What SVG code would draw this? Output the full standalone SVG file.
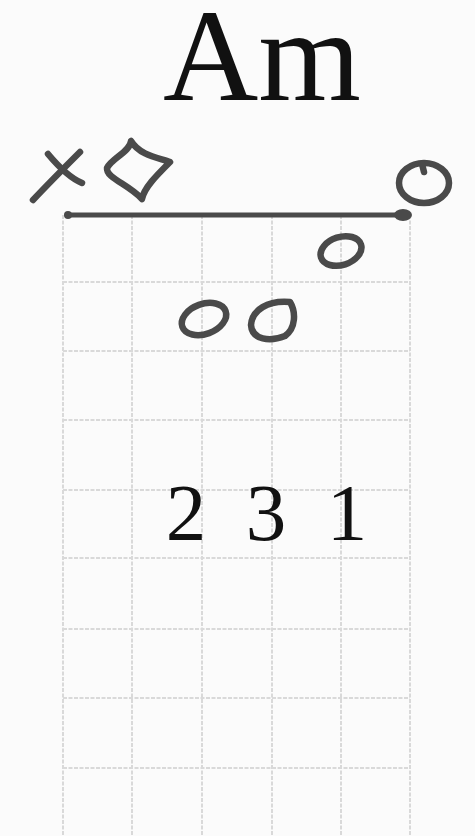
<svg xmlns="http://www.w3.org/2000/svg" width="475" height="836" viewBox="0 0 475 836">
<style>
.grid line{stroke:#d9d9d9;stroke-width:2;stroke-dasharray:4 1.5}
.ink{fill:none;stroke:#4a4a4a;stroke-width:6.5;stroke-linecap:round;stroke-linejoin:round}
.txt{font-family:"Liberation Serif","Times New Roman",serif;fill:#111}
</style>
<rect width="475" height="836" fill="#fbfbfb"/>
<g id="grid" class="grid">
<line x1="63" y1="215" x2="63" y2="836"/>
<line x1="132" y1="215" x2="132" y2="836"/>
<line x1="202" y1="215" x2="202" y2="836"/>
<line x1="272" y1="215" x2="272" y2="836"/>
<line x1="341" y1="215" x2="341" y2="836"/>
<line x1="410" y1="215" x2="410" y2="836"/>
<line x1="63" y1="282" x2="410" y2="282"/>
<line x1="63" y1="351" x2="410" y2="351"/>
<line x1="63" y1="420" x2="410" y2="420"/>
<line x1="63" y1="490" x2="410" y2="490"/>
<line x1="63" y1="558" x2="410" y2="558"/>
<line x1="63" y1="629" x2="410" y2="629"/>
<line x1="63" y1="698" x2="410" y2="698"/>
<line x1="63" y1="768" x2="410" y2="768"/>
</g>
<g id="title"><text class="txt" x="262" y="100" font-size="132" text-anchor="middle">Am</text></g>
<g id="nut">
<line x1="67" y1="215" x2="404" y2="215" stroke="#4a4a4a" stroke-width="5" stroke-linecap="round"/>
<circle cx="68" cy="215" r="4" fill="#4a4a4a"/>
<ellipse cx="403" cy="215" rx="9" ry="6" fill="#4a4a4a"/>
</g>
<g id="mute-x">
<path class="ink" d="M33,200 C50,182 66,166 80,152"/>
<path class="ink" d="M48,154 C58,166 70,178 82,183"/>
</g>
<g id="open-5">
<path class="ink" d="M131,141 C130,152 112,158 107,168 C106,178 128,184 142,199 C144,188 156,176 170,162 C160,158 140,156 131,141 Z"/>
</g>
<g id="open-1">
<ellipse class="ink" cx="424" cy="183" rx="25" ry="20"/>
<path class="ink" d="M422,164 L424,172"/>
</g>
<g id="finger-1"><ellipse class="ink" cx="341" cy="251" rx="21" ry="14" transform="rotate(-18 341 251)"/></g>
<g id="finger-2"><ellipse class="ink" cx="204" cy="319" rx="23" ry="15" transform="rotate(-20 204 319)"/></g>
<g id="finger-3"><path class="ink" d="M290,302 C268,300 252,310 251,325 C252,340 270,342 285,336 C296,328 296,312 290,302 Z"/></g>
<g id="labels" class="txt" font-size="81" text-anchor="middle">
<text x="186" y="540">2</text>
<text x="266" y="540">3</text>
<text x="347" y="540">1</text>
</g>
<g id="connectors"/>
</svg>
